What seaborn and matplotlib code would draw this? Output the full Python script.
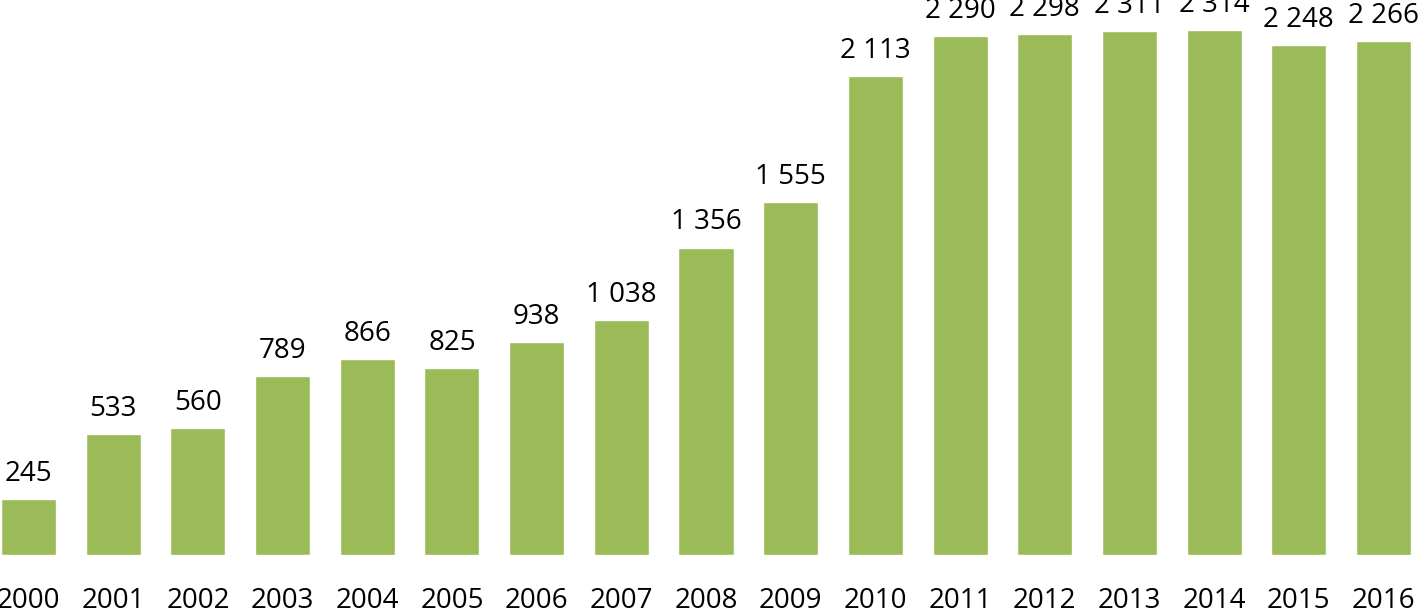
import numpy as np
import pandas as pd
import matplotlib
matplotlib.use("Agg")
import matplotlib.pyplot as plt
import seaborn as sns

# Chart data
years = [str(y) for y in range(2000, 2017)]
values = [245, 533, 560, 789, 866, 825, 938, 1038, 1356, 1555,
          2113, 2290, 2298, 2311, 2314, 2248, 2266]

sns.set_theme(style="white")
plt.rcParams['font.family'] = ['Open Sans', 'DejaVu Sans']

data = pd.DataFrame({'year': years, 'value': values})

figure = plt.figure(figsize=(14.18, 6.09), dpi=100)
axes = figure.add_axes([1 / 1418, 54 / 609, 1410 / 1418, 555 / 609])

sns.barplot(data=data, x='year', y='value', color='#9BBB59', saturation=1,
            width=0.65, ax=axes)

axes.set_xlim(-0.325, 16.325)
axes.set_ylim(0, 2448)

# Value labels with a space as thousands separator
labels = [f"{v:,}".replace(",", " ") for v in values]
axes.bar_label(axes.containers[0], labels=labels, padding=8, fontsize=20, color='black')

axes.set_xlabel("")
axes.set_ylabel("")
axes.set_yticks([])
axes.tick_params(axis='x', length=0, pad=23, labelsize=20, labelcolor='black')
for spine in axes.spines.values():
    spine.set_visible(False)

figure.savefig("out.png", dpi=100)
